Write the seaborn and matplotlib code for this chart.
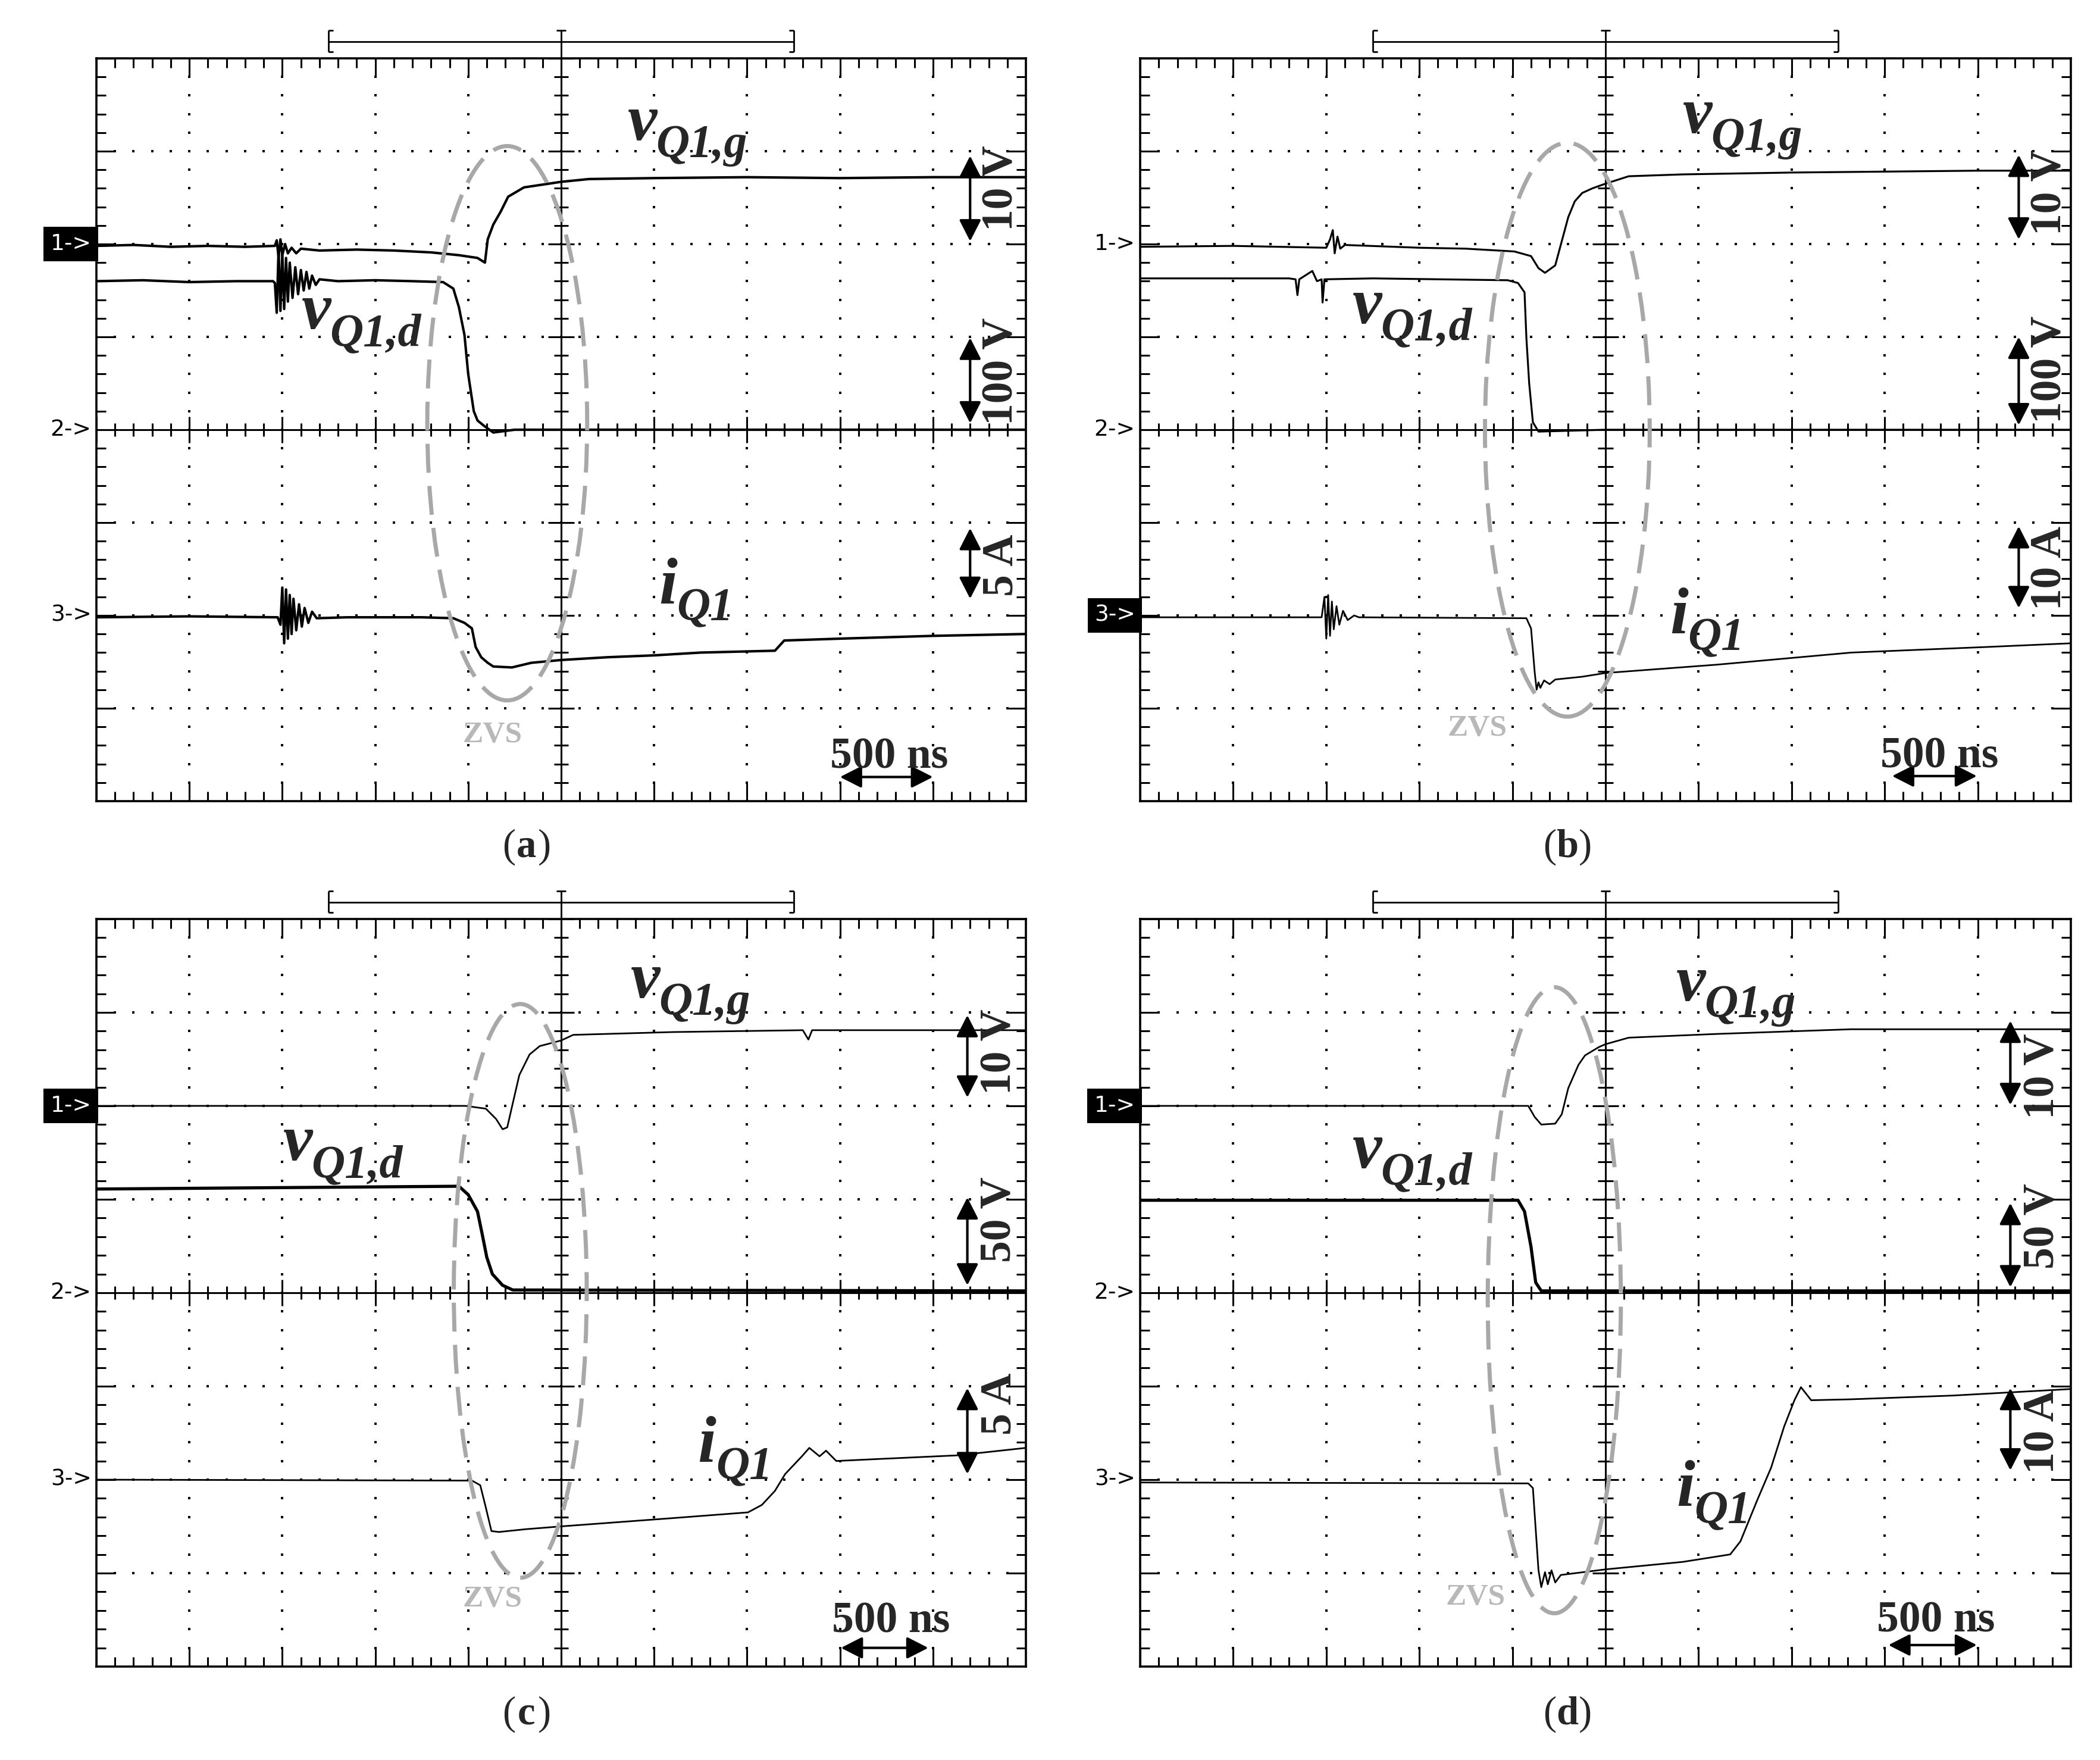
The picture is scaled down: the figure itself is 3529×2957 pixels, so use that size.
import numpy as np
import pandas as pd
import seaborn as sns
import matplotlib.pyplot as plt
from matplotlib.patches import Ellipse
from matplotlib.collections import LineCollection

sns.set_theme(style="white")
plt.rcParams["font.family"] = ["Liberation Serif", "DejaVu Serif"]

# screen units: x in divisions (500 ns/div), y in divisions
# channel refs: ch1 at +2 div, ch2 at 0, ch3 at -2 div

# ---- (a)
a_vg = [(-5.0, 1.98), (-4.6, 1.99), (-4.2, 1.97), (-3.8, 1.98), (-3.4, 1.97),
        (-3.08, 1.98), (-3.06, 2.04), (-3.04, 1.86), (-3.02, 2.05), (-3.0, 1.88),
        (-2.97, 2.00), (-2.94, 1.90), (-2.9, 1.96), (-2.85, 1.90), (-2.8, 1.95),
        (-2.6, 1.93), (-2.2, 1.94), (-1.8, 1.93), (-1.4, 1.91), (-1.1, 1.88),
        (-0.9, 1.85), (-0.82, 1.80), (-0.79, 2.05), (-0.73, 2.21), (-0.65, 2.35),
        (-0.57, 2.51), (-0.4, 2.61), (-0.2, 2.64), (0.0, 2.67), (0.3, 2.70),
        (1.0, 2.71), (2.0, 2.72), (3.0, 2.71), (4.0, 2.72), (5.0, 2.72)]
a_vd = [(-5.0, 1.60), (-4.5, 1.61), (-4.0, 1.59), (-3.5, 1.60), (-3.1, 1.60),
        (-3.08, 1.58), (-3.06, 1.26), (-3.04, 1.95), (-3.02, 1.28), (-3.0, 1.90),
        (-2.98, 1.30), (-2.96, 1.85), (-2.94, 1.38), (-2.92, 1.80), (-2.89, 1.42),
        (-2.86, 1.75), (-2.83, 1.46), (-2.80, 1.72), (-2.77, 1.50), (-2.74, 1.70),
        (-2.71, 1.52), (-2.68, 1.66), (-2.64, 1.56), (-2.60, 1.62), (-2.4, 1.60),
        (-2.0, 1.61), (-1.6, 1.60), (-1.27, 1.59), (-1.16, 1.52), (-1.10, 1.32),
        (-1.04, 1.02), (-1.00, 0.60), (-0.94, 0.20), (-0.90, 0.10), (-0.84, 0.05),
        (-0.73, -0.03), (-0.5, 0.0), (5.0, 0.0)]
a_i = [(-5.0, -2.02), (-4.0, -2.01), (-3.05, -2.02), (-3.02, -2.10), (-3.0, -1.70),
       (-2.98, -2.30), (-2.96, -1.72), (-2.94, -2.25), (-2.92, -1.78), (-2.90, -2.20),
       (-2.88, -1.82), (-2.85, -2.16), (-2.82, -1.88), (-2.79, -2.12), (-2.76, -1.92),
       (-2.72, -2.08), (-2.68, -1.96), (-2.63, -2.03), (-2.3, -2.02), (-1.5, -2.02),
       (-1.16, -2.03), (-1.04, -2.08), (-0.96, -2.14), (-0.92, -2.34), (-0.86, -2.45),
       (-0.79, -2.51), (-0.73, -2.55), (-0.53, -2.56), (-0.32, -2.51), (0.0, -2.48),
       (0.5, -2.45), (1.0, -2.43), (1.5, -2.40), (2.3, -2.38), (2.4, -2.27),
       (3.0, -2.25), (4.0, -2.22), (5.0, -2.20)]

# ---- (b)
b_vg = [(-5.0, 1.97), (-4.0, 1.98), (-3.0, 1.96), (-2.96, 2.05), (-2.93, 2.15),
        (-2.91, 1.90), (-2.88, 2.08), (-2.85, 1.95), (-2.8, 1.99), (-2.0, 1.96),
        (-1.5, 1.95), (-0.98, 1.92), (-0.80, 1.87), (-0.72, 1.74), (-0.65, 1.69),
        (-0.54, 1.77), (-0.47, 2.03), (-0.40, 2.29), (-0.33, 2.46), (-0.25, 2.55),
        (-0.14, 2.60), (0.0, 2.65), (0.25, 2.73), (0.83, 2.75), (2.0, 2.77),
        (3.0, 2.78), (4.0, 2.79), (5.0, 2.79)]
b_vd = [(-5.0, 1.63), (-3.4, 1.63), (-3.33, 1.62), (-3.31, 1.45), (-3.29, 1.62),
        (-3.15, 1.71), (-3.1, 1.60), (-3.05, 1.62), (-3.04, 1.37), (-3.02, 1.62),
        (-2.5, 1.63), (-1.05, 1.61), (-0.94, 1.58), (-0.87, 1.48), (-0.85, 0.99),
        (-0.82, 0.50), (-0.78, 0.08), (-0.72, -0.02), (0.0, 0.0), (5.0, 0.0)]
b_i = [(-5.0, -2.02), (-3.05, -2.02), (-3.02, -1.80), (-3.0, -2.25), (-2.98, -1.78),
       (-2.96, -2.22), (-2.94, -1.85), (-2.92, -2.15), (-2.89, -1.90), (-2.86, -2.10),
       (-2.82, -1.95), (-2.77, -2.05), (-2.7, -2.0), (-2.65, -2.02), (-0.85, -2.03),
       (-0.80, -2.14), (-0.76, -2.62), (-0.74, -2.80), (-0.72, -2.72), (-0.70, -2.78),
       (-0.66, -2.70), (-0.60, -2.74), (-0.54, -2.69), (-0.25, -2.66), (0.0, -2.62),
       (1.2, -2.53), (2.64, -2.40), (4.09, -2.34), (5.0, -2.30)]

# ---- (c)
c_vg = [(-5.0, 2.0), (-3.0, 2.0), (-1.03, 2.0), (-0.81, 1.97), (-0.70, 1.86),
        (-0.63, 1.75), (-0.58, 1.77), (-0.52, 2.03), (-0.45, 2.33), (-0.34, 2.55),
        (-0.23, 2.64), (0.0, 2.70), (0.13, 2.76), (1.2, 2.79), (2.6, 2.81),
        (2.66, 2.71), (2.7, 2.81), (5.0, 2.81)]
c_vd = [(-5.0, 1.11), (-1.10, 1.14), (-1.0, 1.05), (-0.90, 0.87), (-0.85, 0.63),
        (-0.80, 0.38), (-0.74, 0.20), (-0.63, 0.08), (-0.52, 0.03), (5.0, 0.02)]
c_i = [(-5.0, -2.0), (-0.96, -2.01), (-0.87, -2.06), (-0.81, -2.30), (-0.75, -2.55),
       (-0.67, -2.56), (-0.38, -2.53), (0.0, -2.50), (1.22, -2.41), (2.01, -2.35),
       (2.16, -2.27), (2.30, -2.12), (2.41, -1.94), (2.59, -1.75), (2.67, -1.66),
       (2.78, -1.75), (2.85, -1.69), (2.96, -1.80), (3.39, -1.78), (4.26, -1.74),
       (5.0, -1.66)]

# ---- (d)
d_vg = [(-5.0, 2.0), (-0.83, 2.0), (-0.76, 1.88), (-0.69, 1.80), (-0.54, 1.81),
        (-0.47, 1.91), (-0.40, 2.19), (-0.29, 2.44), (-0.22, 2.54), (-0.07, 2.63),
        (0.0, 2.66), (0.25, 2.73), (1.2, 2.77), (2.64, 2.82), (5.0, 2.82)]
d_vd = [(-5.0, 0.99), (-0.94, 0.99), (-0.87, 0.87), (-0.80, 0.49), (-0.75, 0.11),
        (-0.69, 0.02), (5.0, 0.02)]
d_i = [(-5.0, -2.03), (-0.83, -2.04), (-0.78, -2.09), (-0.72, -2.97), (-0.69, -3.15),
       (-0.65, -2.99), (-0.62, -3.12), (-0.58, -2.97), (-0.54, -3.10), (-0.48, -3.02),
       (-0.40, -3.01), (0.0, -2.96), (0.83, -2.88), (1.34, -2.80), (1.45, -2.66),
       (1.63, -2.22), (1.78, -1.87), (1.92, -1.43), (2.03, -1.15), (2.10, -1.01),
       (2.21, -1.15), (2.64, -1.14), (3.73, -1.10), (5.0, -1.03)]

scales_a = ["10 V", "100 V", "5 A"]
scales_b = ["10 V", "100 V", "10 A"]
scales_c = ["10 V", "50 V", "5 A"]
scales_d = ["10 V", "50 V", "10 A"]

W, H = 3530, 2957

panels = [
    dict(name="a", box=(162, 98, 1724, 1346), traces=[(a_vg, 3.0), (a_vd, 3.0), (a_i, 3.0)],
         boxed=1, ell=(-0.58, 0.07, 1.72, 5.97), zvs=(-0.74, -3.29),
         lab_g=(0.72, 3.12), lab_d=(-2.79, 1.09), lab_i=(1.05, -1.87),
         scales=scales_a, sx=(4.40, 4.74), sy=[(2.60, 2.03, 2.95), (0.63, 0.07, 0.99), (-1.46, -1.82, -1.06)],
         ns=((3.53, -3.53), (3.0, 4.0, -3.74)), cap=(885, 1423)),
    dict(name="b", box=(1916, 98, 3480, 1346), traces=[(b_vg, 2.3), (b_vd, 2.3), (b_i, 2.0)],
         boxed=3, ell=(-0.41, 0.0, 1.77, 6.18), zvs=(-1.38, -3.22),
         lab_g=(0.83, 3.2), lab_d=(-2.72, 1.15), lab_i=(0.69, -2.19),
         scales=scales_b, sx=(4.44, 4.78), sy=[(2.56, 2.05, 2.96), (0.65, 0.05, 1.0), (-1.49, -1.92, -1.04)],
         ns=((3.59, -3.52), (3.08, 3.99, -3.73)), cap=(2634, 1423)),
    dict(name="c", box=(162, 1544, 1724, 2800), traces=[(c_vg, 2.0), (c_vd, 3.8), (c_i, 2.0)],
         boxed=1, ell=(-0.44, 0.02, 1.43, 6.14), zvs=(-0.74, -3.28),
         lab_g=(0.75, 3.16), lab_d=(-2.99, 1.42), lab_i=(1.47, -1.81),
         scales=scales_c, sx=(4.37, 4.72), sy=[(2.58, 2.09, 2.97), (0.78, 0.08, 1.02), (-1.19, -1.94, -1.02)],
         ns=((3.55, -3.52), (3.01, 3.95, -3.80)), cap=(885, 2880)),
    dict(name="d", box=(1916, 1544, 3480, 2800), traces=[(d_vg, 2.0), (d_vd, 3.8), (d_i, 2.0)],
         boxed=1, ell=(-0.55, -0.08, 1.43, 6.7), zvs=(-1.40, -3.26),
         lab_g=(0.76, 3.13), lab_d=(-2.72, 1.34), lab_i=(0.76, -2.28),
         scales=scales_d, sx=(4.35, 4.70), sy=[(2.32, 2.01, 2.91), (0.71, 0.06, 0.96), (-1.49, -1.90, -1.02)],
         ns=((3.55, -3.51), (3.04, 3.99, -3.77)), cap=(2634, 2880)),
]

SERIF = "Liberation Serif"


def screen(ax):
    ax.set_xlim(-5, 5)
    ax.set_ylim(-4, 4)
    ax.set_xticks([])
    ax.set_yticks([])
    ax.set_facecolor("white")
    for s in ax.spines.values():
        s.set_linewidth(2.6)
        s.set_color("black")
        s.set_visible(True)
    xs = np.round(np.arange(-5, 5.001, 0.2), 2)
    ys = np.round(np.arange(-4, 4.001, 0.2), 2)
    # dotted graticule
    for gx in [-4, -3, -2, -1, 1, 2, 3, 4]:
        ax.plot(np.full(len(ys), gx), ys, ls="none", marker="s", ms=2.4, mew=0, color="black")
    for gy in [-3, -2, -1, 1, 2, 3]:
        ax.plot(xs, np.full(len(xs), gy), ls="none", marker="s", ms=2.4, mew=0, color="black")
    ax.axhline(0, color="black", lw=2.2)
    ax.axvline(0, color="black", lw=2.2)
    segs = []
    for x in xs:
        major = abs(x - round(x)) < 1e-6
        L = 0.2 if major else 0.1
        c = 0.14 if major else 0.07
        segs += [[(x, 4), (x, 4 - L)], [(x, -4), (x, -4 + L)], [(x, -c), (x, c)]]
    for y in ys:
        major = abs(y - round(y)) < 1e-6
        L = 0.2 if major else 0.1
        c = 0.14 if major else 0.08
        segs += [[(-5, y), (-5 + L, y)], [(5, y), (5 - L, y)], [(-c, y), (c, y)]]
    ax.add_collection(LineCollection(segs, colors="black", linewidths=2.2))
    # record bracket above the screen
    kw = dict(color="black", lw=2.0, clip_on=False, solid_capstyle="butt")
    ax.plot([-2.5, 2.5], [4.18, 4.18], **kw)
    for e, d in [(-2.5, 0.05), (2.5, -0.05)]:
        ax.plot([e, e], [4.07, 4.30], **kw)
        ax.plot([e, e + d], [4.30, 4.30], **kw)
        ax.plot([e, e + d], [4.07, 4.07], **kw)
    ax.plot([0, 0], [4.0, 4.30], **kw)
    ax.plot([-0.05, 0.05], [4.30, 4.30], **kw)


def trace_label(ax, xy, main, sub, dx):
    style = dict(family=SERIF, fontstyle="italic", fontweight="bold", zorder=7)
    ax.text(xy[0], xy[1], main, fontsize=80, ha="left", va="baseline", **style)
    ax.annotate(sub, xy=xy, xytext=(dx, -20), textcoords="offset points",
                fontsize=56, ha="left", va="baseline", **style)


fig = plt.figure(figsize=(W / 100, H / 100), dpi=100)
fig.patch.set_facecolor("white")

arrow = dict(arrowstyle="<|-|>,head_length=0.55,head_width=0.28", color="black",
             lw=3, shrinkA=0, shrinkB=0, mutation_scale=40)

for p in panels:
    l, t, r, b = p["box"]
    ax = fig.add_axes([l / W, 1 - b / H, (r - l) / W, (b - t) / H])
    screen(ax)

    for pts, lw in p["traces"]:
        df = pd.DataFrame(pts, columns=["t", "v"])
        sns.lineplot(data=df, x="t", y="v", ax=ax, color="black", linewidth=lw,
                     sort=False, estimator=None, legend=False, zorder=5)
    ax.set_xlabel("")
    ax.set_ylabel("")

    # channel markers
    for ch, yref in [(1, 2), (2, 0), (3, -2)]:
        boxed = p["boxed"] == ch
        ax.annotate(f"{ch}->", xy=(-5, yref), xytext=(-6, 0), textcoords="offset points",
                    ha="right", va="center", fontsize=27, family="DejaVu Sans",
                    color="white" if boxed else "black", annotation_clip=False,
                    bbox=dict(boxstyle="square,pad=0.3", fc="black", ec="none") if boxed else None)

    cx, cy, ew, eh = p["ell"]
    ax.add_patch(Ellipse((cx, cy), ew, eh, fill=False, ec="#a8a8a8", lw=5,
                         ls=(0, (7, 3.2)), zorder=6))
    ax.text(*p["zvs"], "ZVS", color="#b8b8b8", fontsize=37, fontweight="bold",
            ha="center", va="center", zorder=6)

    trace_label(ax, p["lab_g"], "v", "Q1,g", 34)
    trace_label(ax, p["lab_d"], "v", "Q1,d", 34)
    trace_label(ax, p["lab_i"], "i", "Q1", 22)

    xa, xt = p["sx"]
    for txt, (yt, y0, y1) in zip(p["scales"], p["sy"]):
        ax.annotate("", xy=(xa, y1), xytext=(xa, y0), arrowprops=arrow, annotation_clip=False, zorder=7)
        ax.text(xt, yt, txt, rotation=90, ha="center", va="center", fontsize=53,
                fontweight="bold", clip_on=False, zorder=7)

    (tx, ty), (x0, x1, ya) = p["ns"]
    ax.annotate("", xy=(x1, ya), xytext=(x0, ya), arrowprops=arrow, annotation_clip=False, zorder=7)
    ax.text(tx, ty, "500 ns", ha="center", va="center", fontsize=53, fontweight="bold", zorder=7)

    capx, capy = p["cap"]
    cap = fig.text(capx / W - 0.0085, 1 - capy / H, "(", ha="center", va="center", fontsize=48)
    fig.text(capx / W, 1 - capy / H, p["name"], ha="center", va="center", fontsize=48, fontweight="bold")
    fig.text(capx / W + 0.0085, 1 - capy / H, ")", ha="center", va="center", fontsize=48)

fig.savefig("out.png", dpi=100, facecolor="white")
